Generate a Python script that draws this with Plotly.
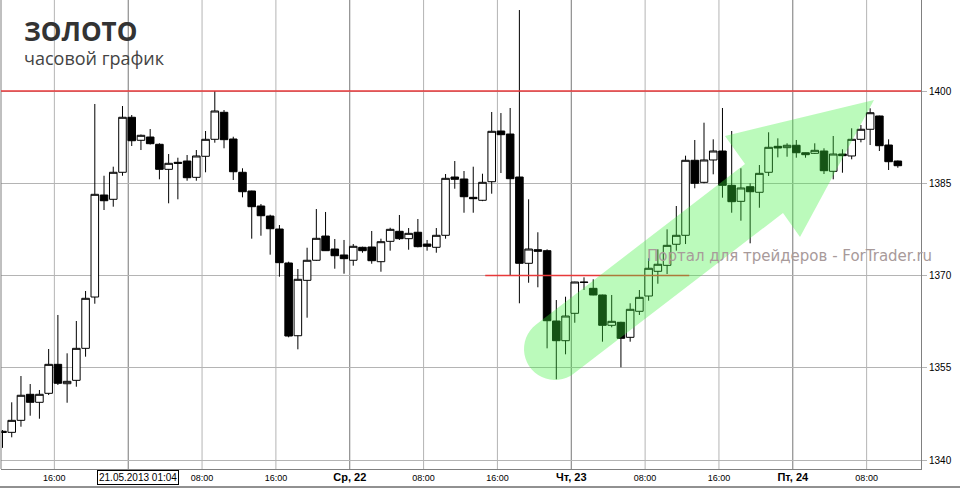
import numpy as np
import plotly.graph_objects as go

# ---------------- data (hourly gold candles) ----------------
opens = [1344.7, 1344.53, 1346.48, 1350.71, 1349.41, 1350.87, 1355.58, 1352.43, 1352.98, 1358.18,
         1366.52, 1383.1, 1382.4, 1386.79, 1395.73, 1391.99, 1392.52, 1391.34, 1387.27, 1388.41,
         1388.62, 1385.97, 1389.39, 1392.15, 1396.54, 1392.2, 1386.79, 1383.75, 1381.31, 1379.68,
         1377.57, 1372.05, 1360.23, 1369.23, 1372.49, 1376.43, 1374.32, 1373.35, 1372.49, 1374.6,
         1374.65, 1372.26, 1375.57, 1377.2, 1376.0, 1377.04, 1375.13, 1374.6, 1376.55, 1386.02,
         1385.7, 1382.72, 1382.24, 1385.26, 1393.5, 1393.01, 1386.02, 1372.0, 1374.21, 1374.05,
         1362.62, 1359.42, 1363.87, 1368.95, 1367.93, 1366.85, 1361.92, 1362.41, 1359.97, 1364.2,
         1366.68, 1370.7, 1371.67, 1375.09, 1376.55, 1388.74, 1385.16, 1388.79, 1390.25, 1384.67,
         1382.07, 1384.45, 1383.54, 1386.79, 1391.01, 1390.79, 1391.18, 1389.97, 1389.87, 1390.25,
         1386.95, 1389.76, 1389.44, 1392.15, 1393.78, 1395.94, 1391.22, 1388.62]
highs = [1344.9, 1349.41, 1353.68, 1352.38, 1351.41, 1358.07, 1363.6, 1357.37, 1362.62, 1367.5,
         1397.89, 1386.23, 1387.7, 1397.56, 1396.1, 1392.93, 1393.82, 1391.5, 1389.76, 1389.16,
         1389.6, 1390.41, 1393.5, 1400.0, 1396.91, 1392.57, 1387.44, 1383.8, 1381.64, 1379.9,
         1378.22, 1372.26, 1371.07, 1374.53, 1380.82, 1380.34, 1375.95, 1375.79, 1375.13, 1374.7,
         1377.25, 1376.0, 1377.78, 1379.85, 1377.73, 1379.2, 1375.79, 1377.73, 1386.51, 1388.62,
         1387.0, 1387.7, 1386.56, 1396.59, 1396.42, 1397.24, 1413.16, 1382.4, 1377.04, 1374.27,
         1366.03, 1366.57, 1369.0, 1369.72, 1369.4, 1366.9, 1366.85, 1362.5, 1365.5, 1367.66,
         1372.81, 1374.27, 1377.52, 1381.31, 1389.49, 1392.04, 1394.85, 1392.15, 1397.24, 1393.5,
         1387.44, 1385.0, 1387.97, 1393.29, 1392.31, 1391.5, 1392.04, 1390.0, 1391.5, 1390.69,
         1392.69, 1390.53, 1393.94, 1394.47, 1397.19, 1396.0, 1392.15, 1388.7]
lows = [1342.0, 1343.72, 1345.44, 1347.23, 1346.74, 1350.59, 1352.22, 1349.34, 1351.94, 1356.82,
        1365.43, 1380.66, 1381.2, 1386.23, 1391.06, 1390.41, 1391.3, 1385.65, 1381.75, 1382.4,
        1385.42, 1385.42, 1386.79, 1391.6, 1390.69, 1385.54, 1382.72, 1376.0, 1376.48, 1373.4,
        1369.82, 1359.97, 1358.02, 1363.16, 1372.4, 1374.0, 1371.12, 1370.31, 1371.61, 1373.72,
        1371.93, 1370.63, 1374.05, 1375.79, 1374.21, 1374.6, 1374.05, 1373.72, 1376.0, 1384.12,
        1380.22, 1380.22, 1382.1, 1383.31, 1386.67, 1369.98, 1365.5, 1368.84, 1368.1, 1358.18,
        1353.15, 1357.21, 1362.34, 1367.66, 1366.8, 1359.26, 1361.6, 1355.1, 1359.26, 1363.6,
        1365.92, 1368.68, 1370.26, 1374.05, 1375.13, 1384.19, 1385.0, 1386.46, 1382.66, 1380.22,
        1378.92, 1375.25, 1381.03, 1386.19, 1389.22, 1389.32, 1389.16, 1389.16, 1389.76, 1386.51,
        1385.65, 1386.72, 1388.9, 1391.66, 1391.22, 1390.25, 1387.16, 1387.53]
closes = [1344.5, 1346.48, 1350.55, 1349.41, 1350.71, 1355.58, 1352.5, 1352.82, 1358.18, 1366.31,
          1383.21, 1382.17, 1386.79, 1395.73, 1391.92, 1392.8, 1391.44, 1387.27, 1388.25, 1388.25,
          1385.91, 1389.44, 1392.15, 1396.75, 1392.09, 1386.88, 1383.63, 1381.2, 1379.73, 1377.62,
          1372.1, 1360.18, 1369.4, 1372.49, 1376.06, 1374.05, 1373.23, 1372.75, 1374.76, 1374.05,
          1372.42, 1375.51, 1377.52, 1376.0, 1376.87, 1374.7, 1374.76, 1376.55, 1385.81, 1385.65,
          1382.82, 1382.5, 1385.16, 1393.45, 1392.9, 1385.75, 1372.0, 1374.32, 1373.95, 1362.67,
          1359.42, 1363.43, 1368.96, 1368.9, 1366.85, 1361.92, 1362.57, 1359.81, 1364.52, 1366.47,
          1371.19, 1371.84, 1374.92, 1376.55, 1388.74, 1385.0, 1388.79, 1390.25, 1384.67, 1382.01,
          1384.24, 1383.63, 1386.62, 1390.85, 1390.74, 1391.18, 1389.97, 1389.65, 1390.36, 1387.05,
          1389.76, 1389.49, 1392.15, 1393.78, 1396.47, 1391.11, 1388.51, 1387.86]
bars = list(range(len(opens)))

grid_pos = [5.62 + 8 * k for k in range(12)]
tick_labels = ["16:00", "Вт, 21", "08:00", "16:00", "Ср, 22", "08:00",
               "16:00", "Чт, 23", "08:00", "16:00", "Пт, 24", "08:00"]
day_idx = [1, 4, 7, 10]
price_ticks = [1340, 1355, 1370, 1385, 1400]
resistance_level = 1400
support_level = 1370
support_span = [52.3, 74.4]

# ---------------- layout geometry ----------------
W, H = 960, 488
ML, MR, MT, MB = 1, 39, 0, 19
PW, PH = W - ML - MR, H - MT - MB
X_RANGE = [-0.1625, 99.51]
Y_RANGE = [1338.57, 1414.79]


def pp(px, py):
    return ((px - ML) / PW, (MT + PH - py) / PH)


# arrow drawn in screen pixels, converted to paper coords
c = np.array([555.0, 349.0])
r = 31.0
ang = np.deg2rad(37.5)
u = np.array([np.cos(ang), -np.sin(ang)])
n = np.array([-np.sin(ang), -np.cos(ang)])
up0 = c + r * n
lo0 = c - r * n
pts = [up0, (745, 164), (725, 136), (874, 100), (800, 237), (783, 213), lo0]
for phi in np.linspace(np.pi, 0, 24):
    pts.append(c + r * (n * np.cos(phi) - u * np.sin(phi)))
path = ""
for k, p in enumerate(pts):
    x, y = pp(p[0], p[1])
    path += ("M" if k == 0 else "L") + f"{x:.5f},{y:.5f} "
path += "Z"

fig = go.Figure()
fig.add_trace(go.Candlestick(
    x=bars, open=opens, high=highs, low=lows, close=closes,
    increasing=dict(fillcolor="white", line=dict(color="black", width=1)),
    decreasing=dict(fillcolor="black", line=dict(color="black", width=1)),
    whiskerwidth=0, showlegend=False, hoverinfo="skip",
))

shapes = []
for k, g in enumerate(grid_pos):
    shapes.append(dict(type="line", xref="x", yref="paper", x0=g, x1=g, y0=0, y1=1,
                       line=dict(color="#777777" if k in day_idx else "#b4b4b4", width=1),
                       layer="below"))
shapes.append(dict(type="line", xref="paper", yref="paper", x0=0, x1=0, y0=0, y1=1,
                   line=dict(color="#808080", width=1)))
shapes.append(dict(type="line", xref="paper", yref="y", x0=0, x1=1,
                   y0=resistance_level, y1=resistance_level,
                   line=dict(color="#e8393a", width=1.5)))
shapes.append(dict(type="line", xref="x", yref="y", x0=support_span[0], x1=support_span[1],
                   y0=support_level, y1=support_level,
                   line=dict(color="#e8393a", width=1.5)))
shapes.append(dict(type="path", xref="paper", yref="paper", path=path,
                   fillcolor="rgba(61,241,61,0.35)", line=dict(width=0), layer="above"))
bx0, by0 = pp(0, 487)
bx1, _ = pp(960, 487)
shapes.append(dict(type="line", xref="paper", yref="paper", x0=bx0, x1=bx1, y0=by0, y1=by0,
                   line=dict(color="#222222", width=1)))

ticktext = []
for k, t in enumerate(tick_labels):
    if k in day_idx:
        ticktext.append(f"<b><span style='font-size:11px'>{t}</span></b>")
    else:
        ticktext.append(t)

annotations = []
tx, ty = pp(22, 31)
annotations.append(dict(text="<b>ЗОЛОТО</b>", xref="paper", yref="paper", x=tx, y=ty,
                        xanchor="left", yanchor="middle", showarrow=False,
                        font=dict(family="Open Sans", size=26, color="#333333")))
sx, sy = pp(22, 58)
annotations.append(dict(text="часовой график", xref="paper", yref="paper", x=sx, y=sy,
                        xanchor="left", yanchor="middle", showarrow=False,
                        font=dict(family="Open Sans", size=18, color="#444444")))
wx, wy = pp(645, 256)
annotations.append(dict(text="Портал для трейдеров - ForTrader.ru", xref="paper", yref="paper",
                        x=wx, y=wy, xanchor="left", yanchor="middle", showarrow=False,
                        font=dict(family="DejaVu Sans", size=15, color="#a89a9a")))
dx, dy = pp(137.5, 477)
annotations.append(dict(text="21.05.2013 01:04", xref="paper", yref="paper", x=dx, y=dy,
                        xanchor="center", yanchor="middle", showarrow=False,
                        bgcolor="white", bordercolor="black", borderwidth=1, borderpad=1,
                        font=dict(family="Liberation Sans", size=10, color="black")))

fig.update_layout(
    width=W, height=H, margin=dict(l=ML, r=MR, t=MT, b=MB),
    paper_bgcolor="white", plot_bgcolor="white",
    boxgap=0.18, boxgroupgap=0,
    shapes=shapes, annotations=annotations,
    xaxis=dict(range=X_RANGE, rangeslider=dict(visible=False), showgrid=False,
               tickvals=grid_pos, ticktext=ticktext, ticks="", zeroline=False,
               showline=True, linecolor="#808080", linewidth=1,
               tickfont=dict(family="Liberation Sans", size=9, color="black")),
    yaxis=dict(range=Y_RANGE, side="right", tickvals=price_ticks,
               ticktext=[str(v) for v in price_ticks],
               showgrid=True, gridcolor="#b4b4b4", gridwidth=1, zeroline=False,
               ticks="outside", ticklen=5, tickcolor="#b4b4b4",
               showline=True, linecolor="#808080", linewidth=1,
               tickfont=dict(family="Liberation Sans", size=10, color="black")),
)

fig.write_html("out.html", config={"displayModeBar": False},
               post_script="document.body.style.margin='0';")
